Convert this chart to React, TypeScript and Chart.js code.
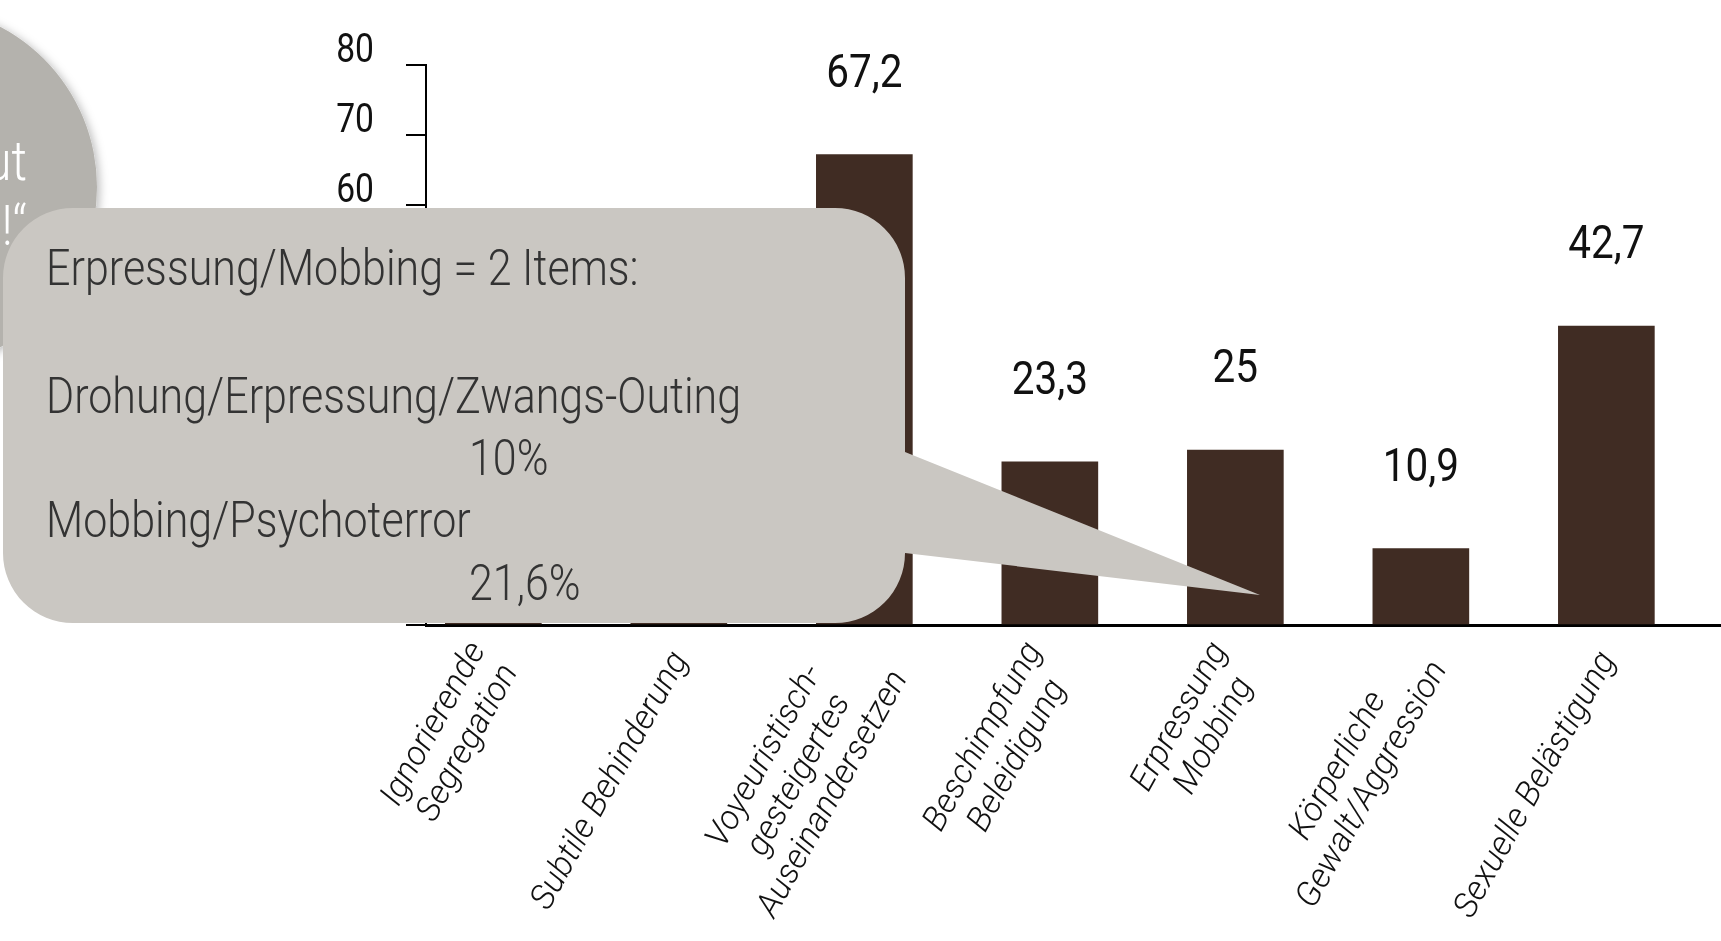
import React, { useEffect, useRef } from "react";
import { Chart, registerables } from "chart.js";

Chart.register(...registerables);

// ---- data ----
const categories: string[][] = [
  ["Ignorierende", "Segregation"],
  ["Subtile Behinderung"],
  ["Voyeuristisch-", "gesteigertes", "Auseinandersetzen"],
  ["Beschimpfung", "Beleidigung"],
  ["Erpressung", "Mobbing"],
  ["Körperliche", "Gewalt/Aggression"],
  ["Sexuelle Belästigung"],
];
const values: number[] = [44.8, 35, 67.2, 23.3, 25, 10.9, 42.7];
const yMin = 0;
const yMax = 80;
const yStep = 10;

const calloutTitle = "Erpressung/Mobbing = 2 Items:";
const calloutItems = ["Drohung/Erpressung/Zwangs-Outing", "Mobbing/Psychoterror"];
const calloutValues = ["10%", "21,6%"];
const circleLines = ["ut", "!\u201C"];

const SANS = 'Roboto, "Liberation Sans", sans-serif';
const BAR_COLOR = "#402c23";

const fmt = (v: number) => String(v).replace(".", ",");

function narrowText(
  ctx: CanvasRenderingContext2D,
  text: string,
  x: number,
  y: number,
  sx: number
) {
  ctx.save();
  ctx.translate(x, y);
  ctx.scale(sx, 1);
  ctx.fillText(text, 0, 0);
  ctx.restore();
}

const valueLabelPlugin = {
  id: "valueLabels",
  afterDatasetsDraw(chart: any) {
    const { ctx } = chart;
    const meta = chart.getDatasetMeta(0);
    ctx.save();
    ctx.font = `400 46px ${SANS}`;
    ctx.fillStyle = "#111";
    ctx.textAlign = "center";
    ctx.textBaseline = "alphabetic";
    meta.data.forEach((bar: any, i: number) => {
      narrowText(ctx, fmt(values[i]), bar.x, bar.y - 68, 0.88);
    });
    ctx.restore();
  },
};

const yLabelPlugin = {
  id: "yLabels",
  afterDraw(chart: any) {
    const { ctx, chartArea, scales } = chart;
    const ys = scales.y;
    ctx.save();
    ctx.font = `400 40px ${SANS}`;
    ctx.fillStyle = "#111";
    ctx.textAlign = "right";
    ctx.textBaseline = "middle";
    for (let v = yMin; v <= yMax; v += yStep) {
      narrowText(ctx, String(v), chartArea.left - 52, ys.getPixelForValue(v) - 13, 0.84);
    }
    ctx.restore();
  },
};

const xLabelPlugin = {
  id: "xLabels",
  afterDraw(chart: any) {
    const { ctx, chartArea, scales } = chart;
    const xs = scales.x;
    ctx.save();
    ctx.font = 'italic 300 34px Roboto, "Open Sans", sans-serif';
    ctx.fillStyle = "#111";
    ctx.textAlign = "center";
    ctx.textBaseline = "middle";
    const lh = 39;
    categories.forEach((lines, i) => {
      const px = xs.getPixelForValue(i) + 2;
      const py = chartArea.bottom + 30;
      const maxW = Math.max(...lines.map((l) => ctx.measureText(l).width));
      ctx.save();
      ctx.translate(px, py);
      ctx.rotate((-61 * Math.PI) / 180);
      lines.forEach((l, j) => {
        const yOff = (j - (lines.length - 1) / 2) * lh;
        ctx.fillText(l, -maxW / 2, yOff);
      });
      ctx.restore();
    });
    ctx.restore();
  },
};

export default function App() {
  const canvasRef = useRef<HTMLCanvasElement | null>(null);

  useEffect(() => {
    if (!canvasRef.current) return;
    const chart = new Chart(canvasRef.current, {
      type: "bar",
      data: {
        datasets: [
          {
            data: values.map((v, i) => ({ x: i, y: v })),
            backgroundColor: BAR_COLOR,
            borderWidth: 0,
            barThickness: 96,
          } as any,
        ],
      },
      options: {
        animation: false,
        responsive: false,
        devicePixelRatio: 1,
        layout: { padding: { top: 65, left: 0, right: 0, bottom: 0 } },
        plugins: {
          legend: { display: false },
          tooltip: { enabled: false },
        },
        scales: {
          x: {
            type: "linear",
            min: -0.363,
            max: 6.618,
            offset: false,
            ticks: { display: false },
            grid: { display: false },
            border: { display: true, color: "#000", width: 3 },
            afterFit: (s: any) => {
              s.height = 316;
            },
          },
          y: {
            min: yMin,
            max: yMax,
            ticks: { stepSize: yStep, display: false },
            grid: {
              display: true,
              drawOnChartArea: false,
              drawTicks: true,
              tickLength: 20,
              color: "#000",
              lineWidth: 2,
            },
            border: { display: true, color: "#000", width: 2 },
            afterFit: (s: any) => {
              s.width = 426;
            },
          },
        },
      } as any,
      plugins: [valueLabelPlugin, yLabelPlugin, xLabelPlugin],
    });
    return () => chart.destroy();
  }, []);

  const R = 70;
  const L = 3,
    T = 208,
    Rt = 905,
    B = 623;
  const calloutPath = `M ${L + R} ${T} H ${Rt - R} A ${R} ${R} 0 0 1 ${Rt} ${T + R} V 452 L 1260 595 L ${Rt} 553 V ${B - R} A ${R} ${R} 0 0 1 ${Rt - R} ${B} H ${L + R} A ${R} ${R} 0 0 1 ${L} ${B - R} V ${T + R} A ${R} ${R} 0 0 1 ${L + R} ${T} Z`;

  const cs = 0.86;
  const ct = (x: number, y: number) => `translate(${x} ${y}) scale(${cs} 1)`;

  return (
    <div
      style={{
        position: "absolute",
        left: 0,
        top: 0,
        width: 1721,
        height: 941,
        overflow: "hidden",
        background: "#fff",
      }}
    >
      <canvas
        ref={canvasRef}
        width={1721}
        height={941}
        style={{ position: "absolute", left: 0, top: 0, width: 1721, height: 941 }}
      />
      <svg
        width={1721}
        height={941}
        style={{ position: "absolute", left: 0, top: 0, pointerEvents: "none" }}
      >
        <defs>
          <filter id="circleShadow" x="-50%" y="-50%" width="200%" height="200%">
            <feDropShadow dx="3" dy="2" stdDeviation="4" floodColor="#000" floodOpacity="0.25" />
          </filter>
        </defs>
        <circle cx={-84} cy={187} r={181} fill="#b4b2ad" filter="url(#circleShadow)" />
        <g fill="#fff" fontFamily={SANS} fontWeight={300} fontSize={56} textAnchor="end">
          <text transform={ct(27, 180)}>{circleLines[0]}</text>
          <text transform={ct(27, 245)}>{circleLines[1]}</text>
        </g>
        <path d={calloutPath} fill="#cac7c2" />
        <g fill="#333" fontFamily={SANS} fontWeight={300} fontSize={50}>
          <text transform={ct(46, 285)}>{calloutTitle}</text>
          <text transform={ct(46, 413)}>{calloutItems[0]}</text>
          <text transform={ct(469, 475)}>{calloutValues[0]}</text>
          <text transform={ct(46, 537)}>{calloutItems[1]}</text>
          <text transform={ct(469, 600)}>{calloutValues[1]}</text>
        </g>
      </svg>
    </div>
  );
}
